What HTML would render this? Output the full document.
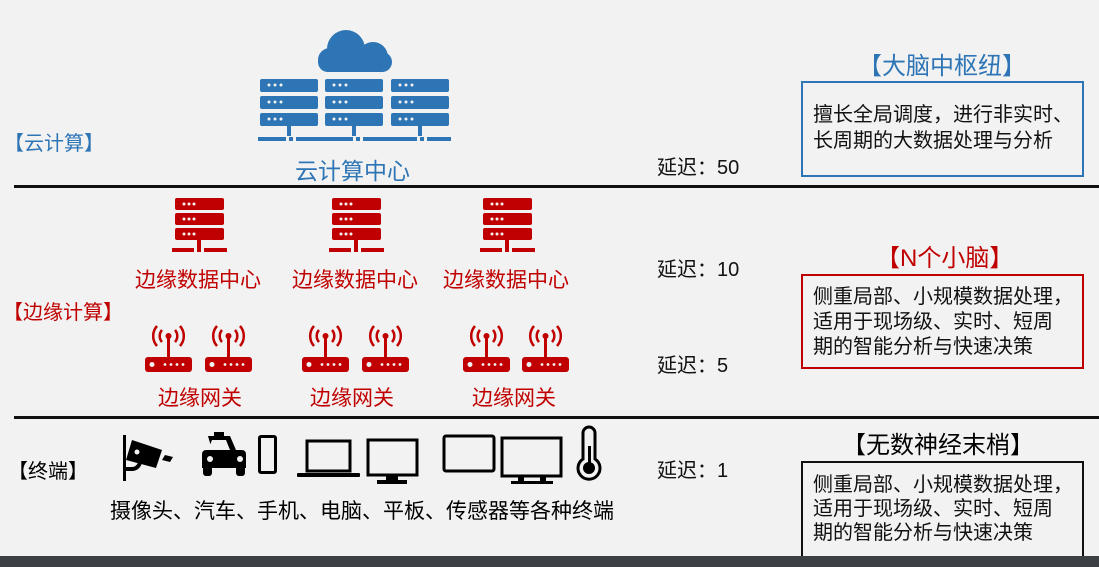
<!DOCTYPE html>
<html><head><meta charset="utf-8"><style>
body{margin:0;width:1099px;height:567px;overflow:hidden;background:#f2f2f2;font-family:"Liberation Sans","Noto Sans CJK SC",sans-serif;}
.t{position:absolute;white-space:nowrap;}
</style></head><body>
<svg width="1099" height="567" style="position:absolute;left:0;top:0">
<defs>
<g id="srvB">
<rect x="0" y="0" width="58" height="13" rx="2"/><rect x="0" y="17" width="58" height="13" rx="2"/><rect x="0" y="34" width="58" height="13" rx="2"/>
<rect x="27" y="47" width="4" height="10"/>
</g>
<g id="srvR">
<rect x="0" y="0" width="49" height="12" rx="2"/><rect x="0" y="15" width="49" height="12" rx="2"/><rect x="0" y="30" width="49" height="12" rx="2"/>
<rect x="22" y="42" width="4" height="9"/>
<rect x="-3" y="50" width="22" height="4"/><rect x="22" y="50" width="4" height="4"/><rect x="29" y="50" width="23" height="4"/>
<g fill="#f2f2f2"><circle cx="9" cy="6" r="1.5"/><circle cx="14" cy="6" r="1.5"/><circle cx="19" cy="6" r="1.5"/><circle cx="9" cy="21" r="1.5"/><circle cx="14" cy="21" r="1.5"/><circle cx="19" cy="21" r="1.5"/><circle cx="9" cy="36" r="1.5"/><circle cx="14" cy="36" r="1.5"/><circle cx="19" cy="36" r="1.5"/></g>
</g>
<g id="rt">
<rect x="0" y="31" width="47" height="15" rx="3" fill="#c00000"/>
<circle cx="7" cy="38.5" r="2.5" fill="#f2f2f2"/>
<g fill="#f2f2f2"><circle cx="20" cy="38.5" r="1.4"/><circle cx="26" cy="38.5" r="1.4"/><circle cx="32" cy="38.5" r="1.4"/><circle cx="38" cy="38.5" r="1.4"/></g>
<rect x="22" y="10" width="3" height="21" fill="#c00000"/>
<circle cx="23.5" cy="10" r="3" fill="#c00000"/>
<g fill="none" stroke="#c00000" stroke-width="2.5">
<path d="M17 4 A9 9 0 0 0 17 16"/><path d="M30 4 A9 9 0 0 1 30 16"/>
<path d="M12 0 A15 15 0 0 0 12 20"/><path d="M35 0 A15 15 0 0 1 35 20"/>
</g>
</g>
</defs>
<!-- cloud -->
<g fill="#2e75b6">
<circle cx="346" cy="49" r="19"/><circle cx="330" cy="60" r="12"/><circle cx="373" cy="57" r="15"/>
<rect x="318" y="52" width="74" height="20" rx="10"/>
</g>
<g fill="#2e75b6">
<use href="#srvB" x="260" y="79"/><use href="#srvB" x="325" y="79"/><use href="#srvB" x="391" y="79"/>
<rect x="258" y="137" width="28" height="4"/><rect x="289" y="137" width="4" height="4"/><rect x="296" y="137" width="57" height="4"/><rect x="356" y="137" width="4" height="4"/><rect x="363" y="137" width="54" height="4"/><rect x="420" y="137" width="4" height="4"/><rect x="427" y="137" width="24" height="4"/>
</g>
<g fill="#f2f2f2">
<circle cx="269" cy="85" r="1.5"/><circle cx="275" cy="85" r="1.5"/><circle cx="281" cy="85" r="1.5"/>
<circle cx="269" cy="102" r="1.5"/><circle cx="275" cy="102" r="1.5"/><circle cx="281" cy="102" r="1.5"/>
<circle cx="269" cy="119" r="1.5"/><circle cx="275" cy="119" r="1.5"/><circle cx="281" cy="119" r="1.5"/>
<circle cx="334" cy="85" r="1.5"/><circle cx="340" cy="85" r="1.5"/><circle cx="346" cy="85" r="1.5"/>
<circle cx="334" cy="102" r="1.5"/><circle cx="340" cy="102" r="1.5"/><circle cx="346" cy="102" r="1.5"/>
<circle cx="334" cy="119" r="1.5"/><circle cx="340" cy="119" r="1.5"/><circle cx="346" cy="119" r="1.5"/>
<circle cx="400" cy="85" r="1.5"/><circle cx="406" cy="85" r="1.5"/><circle cx="412" cy="85" r="1.5"/>
<circle cx="400" cy="102" r="1.5"/><circle cx="406" cy="102" r="1.5"/><circle cx="412" cy="102" r="1.5"/>
<circle cx="400" cy="119" r="1.5"/><circle cx="406" cy="119" r="1.5"/><circle cx="412" cy="119" r="1.5"/>
</g>
<!-- red servers -->
<g fill="#c00000">
<use href="#srvR" x="175" y="198"/><use href="#srvR" x="332" y="198"/><use href="#srvR" x="483" y="198"/>
</g>
<!-- routers -->
<use href="#rt" x="145" y="326"/><use href="#rt" x="205" y="326"/>
<use href="#rt" x="302" y="326"/><use href="#rt" x="362" y="326"/>
<use href="#rt" x="463" y="326"/><use href="#rt" x="522" y="326"/>
<!-- lines -->
<rect x="14" y="185" width="1085" height="3" fill="#111"/>
<rect x="14" y="416" width="1085" height="3" fill="#111"/>
<!-- boxes -->
<rect x="802" y="82" width="281" height="94" fill="none" stroke="#2e75b6" stroke-width="2"/>
<rect x="802" y="275" width="281" height="93" fill="none" stroke="#c00000" stroke-width="2"/>
<rect x="802" y="462" width="281" height="98" fill="none" stroke="#111" stroke-width="2"/>
<!-- terminal icons -->
<g fill="#000">
<rect x="123" y="435" width="3" height="46"/>
<path d="M124 467 h8 a6 6 0 0 0 6 -6 v-4 h4 v4 a10 10 0 0 1 -10 10 h-8z"/>
<path d="M132 440 l30 10 l-6 18 l-30 -8 z"/>
<circle cx="137" cy="452" r="2.5" fill="#f2f2f2"/>
<path d="M165 455 l8 2 l-3 5 l-8 -2z"/>
<path d="M214 432 h10 v4 h-10z"/>
<path d="M208 436 h22 l6 14 h6 a4 4 0 0 1 4 4 v14 h-44 v-14 a4 4 0 0 1 4 -4 h6z"/>
<path d="M212 440 h14 l4 10 h-22z" fill="#f2f2f2"/>
<circle cx="210" cy="459" r="3" fill="#f2f2f2"/><circle cx="240" cy="459" r="3" fill="#f2f2f2"/>
<rect x="203" y="466" width="9" height="10" rx="3"/><rect x="236" y="466" width="9" height="10" rx="3"/>
</g>
<g fill="none" stroke="#000" stroke-width="3">
<rect x="259.5" y="436.5" width="16" height="36" rx="1.5"/>
<rect x="307" y="441" width="43" height="30"/>
<rect x="368" y="440" width="49" height="35"/>
<rect x="444" y="436" width="50" height="35" rx="2"/>
<rect x="502" y="438" width="59" height="38"/>
</g>
<g fill="#000">
<rect x="297" y="473" width="63" height="4" rx="1"/>
<rect x="386" y="475" width="12" height="5"/><rect x="377" y="480" width="30" height="4"/>
<rect x="518" y="476" width="6" height="5"/><rect x="540" y="476" width="6" height="5"/><rect x="511" y="481" width="42" height="3"/>
<path d="M583 433 a6 6 0 0 1 12 0 v26 a11 11 0 1 1 -12 0z" fill="none" stroke="#000" stroke-width="3"/>
<circle cx="589" cy="468" r="6"/><rect x="588" y="446" width="3" height="20"/>
</g>
<rect x="0" y="556" width="1099" height="11" fill="#3c3f43"/>
</svg>
<div class="t" style="left:295px;top:152px;font-size:23px;color:#2e75b6">云计算中心</div>
<div class="t" style="left:4px;top:127px;font-size:20px;color:#2e75b6">【云计算】</div>
<div class="t" style="left:3px;top:296px;font-size:20px;color:#c00000">【边缘计算】</div>
<div class="t" style="left:8px;top:455px;font-size:20px;color:#000">【终端】</div>
<div class="t" style="left:135px;top:264px;font-size:21px;color:#c00000">边缘数据中心</div>
<div class="t" style="left:292px;top:264px;font-size:21px;color:#c00000">边缘数据中心</div>
<div class="t" style="left:443px;top:264px;font-size:21px;color:#c00000">边缘数据中心</div>
<div class="t" style="left:158px;top:382px;font-size:21px;color:#c00000">边缘网关</div>
<div class="t" style="left:310px;top:382px;font-size:21px;color:#c00000">边缘网关</div>
<div class="t" style="left:472px;top:382px;font-size:21px;color:#c00000">边缘网关</div>
<div class="t" style="left:110px;top:495px;font-size:21px;color:#000">摄像头、汽车、手机、电脑、平板、传感器等各种终端</div>
<div class="t" style="left:657px;top:151px;font-size:20px;color:#111">延迟：50</div>
<div class="t" style="left:657px;top:253px;font-size:20px;color:#111">延迟：10</div>
<div class="t" style="left:657px;top:349px;font-size:20px;color:#111">延迟：5</div>
<div class="t" style="left:657px;top:454px;font-size:20px;color:#111">延迟：1</div>
<div class="t" style="left:858px;top:46px;font-size:24px;color:#2e75b6">【大脑中枢纽】</div>
<div class="t" style="left:876px;top:238px;font-size:24px;color:#c00000">【N个小脑】</div>
<div class="t" style="left:842px;top:425px;font-size:24px;color:#000">【无数神经末梢】</div>
<div class="t" style="left:813px;top:102px;font-size:20px;line-height:26px;color:#111">擅长全局调度，进行非实时、<br>长周期的大数据处理与分析</div>
<div class="t" style="left:813px;top:285px;font-size:20px;line-height:25px;color:#111">侧重局部、小规模数据处理，<br>适用于现场级、实时、短周<br>期的智能分析与快速决策</div>
<div class="t" style="left:813px;top:473px;font-size:20px;line-height:24px;color:#111">侧重局部、小规模数据处理，<br>适用于现场级、实时、短周<br>期的智能分析与快速决策</div>
</body></html>
